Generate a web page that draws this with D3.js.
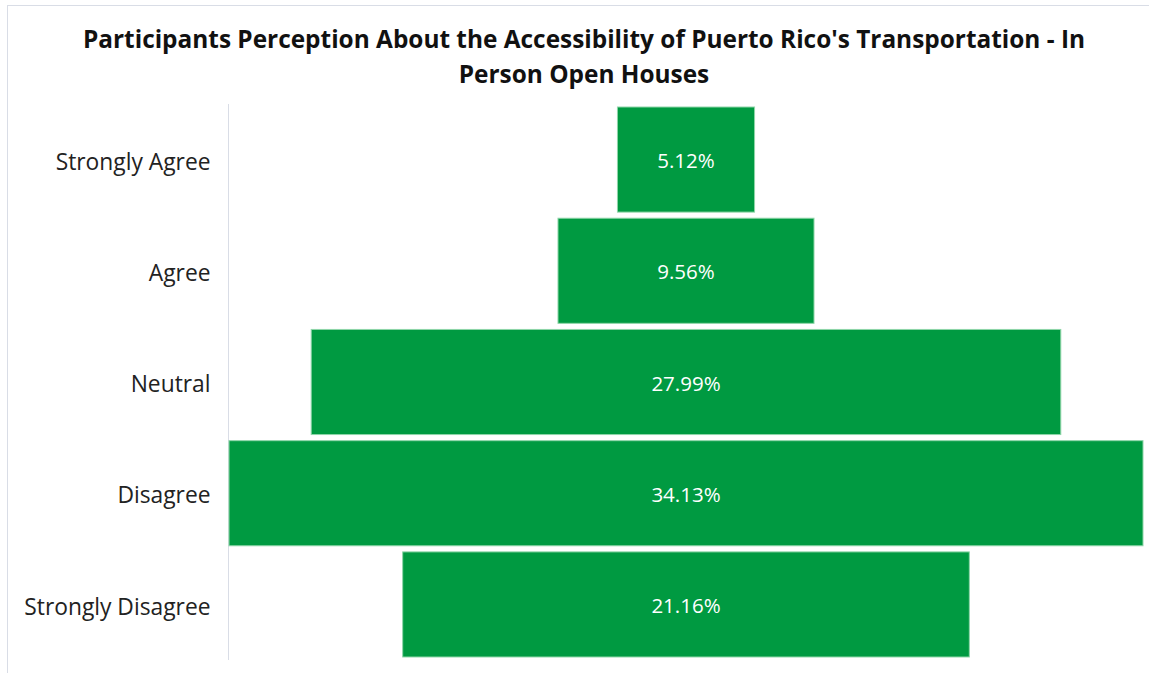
<!DOCTYPE html>
<html>
<head>
<meta charset="utf-8">
<script src="https://cdn.jsdelivr.net/npm/d3@7"></script>
<style>
  html, body { margin: 0; padding: 0; background: #fff; }
  svg { display: block; }
</style>
</head>
<body>
<svg id="chart" width="1149" height="673"></svg>
<script>
const categories = ["Strongly Agree", "Agree", "Neutral", "Disagree", "Strongly Disagree"];
const values = [5.12, 9.56, 27.99, 34.13, 21.16];
const valueLabels = ["5.12%", "9.56%", "27.99%", "34.13%", "21.16%"];
const titleLines = ["Participants Perception About the Accessibility of Puerto Rico's Transportation - In", "Person Open Houses"];

const W = 1149, H = 673;
const svg = d3.select("#chart");
const fontFam = "'Open Sans', 'Noto Sans', sans-serif";

// outer border
svg.append("rect")
  .attr("x", 7.5).attr("y", 5.5)
  .attr("width", 1300).attr("height", 700)
  .attr("fill", "none").attr("stroke", "#d9dde6").attr("stroke-width", 1);

// title
const title = svg.append("g");
titleLines.forEach((t, i) => {
  title.append("text")
    .attr("x", 584).attr("y", 48 + i * 35)
    .attr("text-anchor", "middle")
    .attr("font-family", fontFam)
    .attr("font-weight", "bold")
    .attr("font-size", 24.4)
    .attr("fill", "#111")
    .text(t);
});

const plotLeft = 229, plotRight = 1143, plotTop = 104, plotBottom = 660;
const centerX = (plotLeft + plotRight) / 2;

const y = d3.scaleBand()
  .domain(categories)
  .range([plotTop, plotBottom])
  .paddingInner(0.055)
  .paddingOuter(0.027);

const w = d3.scaleLinear()
  .domain([0, d3.max(values)])
  .range([0, plotRight - plotLeft]);

const data = categories.map((c, i) => ({ c, v: values[i], lab: valueLabels[i] }));

// axis
const axis = d3.axisLeft(y).tickSize(0).tickPadding(18);
const ag = svg.append("g")
  .attr("transform", `translate(${plotLeft - 0.5},0)`)
  .call(axis);
ag.select(".domain").attr("stroke", "#d9dde6").attr("d", `M0,${plotTop}V${plotBottom}`);
ag.selectAll("text")
  .attr("font-family", fontFam)
  .attr("font-size", 22.8)
  .attr("dy", "0.45em")
  .attr("fill", "#222");

// bars
svg.append("g").selectAll("rect")
  .data(data).join("rect")
  .attr("x", d => centerX - w(d.v) / 2)
  .attr("y", d => y(d.c))
  .attr("width", d => w(d.v))
  .attr("height", y.bandwidth())
  .attr("fill", "#009a41")
  .attr("stroke", "#8fd6a9")
  .attr("stroke-width", 1);

// value labels
svg.append("g").selectAll("text")
  .data(data).join("text")
  .attr("x", centerX)
  .attr("y", d => y(d.c) + y.bandwidth() / 2)
  .attr("dy", "0.42em")
  .attr("text-anchor", "middle")
  .attr("font-family", fontFam)
  .attr("font-size", 20.5)
  .attr("fill", "#ffffff")
  .text(d => d.lab);
</script>
</body>
</html>
